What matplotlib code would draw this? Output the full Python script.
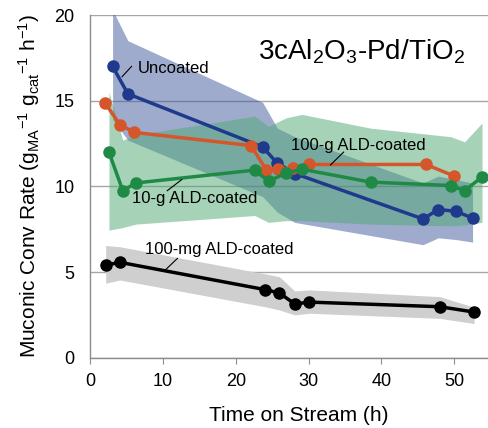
import matplotlib
matplotlib.use("Agg")
import matplotlib.pyplot as plt

plt.rcParams["font.family"] = ["Liberation Sans", "DejaVu Sans"]
plt.rcParams["mathtext.fontset"] = "custom"
plt.rcParams["mathtext.rm"] = "Liberation Sans"
plt.rcParams["mathtext.it"] = "Liberation Sans:italic"

# time on stream (h), rate, and band limits for each catalyst
uncoated_t = [3.1, 5.2, 23.7, 25.7, 28.1, 45.7, 47.8, 50.2, 52.5]
uncoated_rate = [17.0, 15.4, 12.3, 11.35, 10.75, 8.1, 8.65, 8.55, 8.15]
uncoated_hi = [20.3, 18.5, 14.9, 13.4, 12.9, 10.2, 10.6, 10.4, 10.2]
uncoated_lo = [13.9, 12.7, 9.4, 8.5, 7.9, 6.6, 7.0, 6.9, 6.75]

g100_t = [2.1, 4.1, 6.1, 22.1, 24.2, 25.8, 27.9, 30.1, 46.1, 50.0]
g100_rate = [14.85, 13.6, 13.15, 12.38, 10.95, 11.0, 11.05, 11.28, 11.28, 10.6]

g10_t = [2.6, 4.5, 6.3, 22.6, 24.5, 26.9, 29.1, 38.5, 49.5, 51.4, 53.8]
g10_rate = [12.0, 9.75, 10.2, 10.95, 10.3, 10.78, 11.0, 10.25, 10.05, 9.75, 10.55]
g10_hi = [15.5, 12.7, 13.0, 14.1, 13.5, 14.0, 14.2, 13.4, 12.9, 12.6, 13.7]
g10_lo = [7.45, 7.6, 7.8, 8.3, 7.9, 8.0, 8.0, 7.8, 7.7, 7.75, 7.9]

mg100_t = [2.15, 4.1, 24.0, 26.0, 28.1, 30.1, 48.0, 52.7]
mg100_rate = [5.4, 5.57, 3.98, 3.78, 3.14, 3.25, 2.98, 2.67]
mg100_hi = [6.55, 6.48, 4.9, 4.73, 3.9, 3.96, 3.57, 2.95]
mg100_lo = [4.35, 4.54, 2.98, 2.79, 2.5, 2.6, 2.3, 2.0]

BLUE = "#1f3a8c"
ORANGE = "#d5562a"
GREEN = "#1f8a45"

fig = plt.figure(figsize=(4.89, 4.28), dpi=100)
ax = fig.add_axes([90 / 489, 70.2 / 428, 55 * 7.287 / 489, 342.8 / 428])

# shaded ranges
ax.fill_between(uncoated_t, uncoated_lo, uncoated_hi, color="#41599d",
                alpha=0.5, lw=0, zorder=1)
ax.fill_between(g10_t, g10_lo, g10_hi, color="#4fa872", alpha=0.5,
                lw=0, zorder=2)
ax.fill_between(mg100_t, mg100_lo, mg100_hi, color="#cfcfcf", lw=0, zorder=2)

kw = dict(marker="o", markersize=8, linewidth=2.5, zorder=4)
ax.plot(uncoated_t, uncoated_rate, color=BLUE, **kw)
ax.plot(g100_t, g100_rate, color=ORANGE, **kw)
ax.plot(g10_t, g10_rate, color=GREEN, **kw)
ax.plot(mg100_t, mg100_rate, color="black", **kw)

# labels with leader lines
def label(text, xy, leader):
    ax.text(xy[0], xy[1], text, fontsize=12, ha="left", va="baseline", zorder=6)
    ax.plot(leader[0], leader[1], color="black", lw=0.8, zorder=5)

label("Uncoated", (6.5, 16.6), ([5.7, 4.4], [17.0, 16.4]))
label("100-g ALD-coated", (27.6, 12.1), ([34.8, 33.0], [12.0, 11.25]))
label("10-g ALD-coated", (5.8, 9.05), ([12.6, 10.6], [10.4, 9.75]))
label("100-mg ALD-coated", (7.5, 6.05), ([12.0, 10.4], [5.8, 5.15]))

ax.text(23.0, 17.4, r"3cAl$_2$O$_3$-Pd/TiO$_2$", fontsize=20,
        ha="left", va="baseline")

ax.set_xlim(0, 55)
ax.set_ylim(0, 20)
ax.set_xticks([0, 10, 20, 30, 40, 50])
ax.set_yticks([0, 5, 10, 15, 20])
ax.yaxis.grid(True, color="#a6a6a6", lw=1)
ax.set_axisbelow(True)

for side in ["top", "right"]:
    ax.spines[side].set_visible(False)
for side in ["left", "bottom"]:
    ax.spines[side].set_color("#8c8c8c")
    ax.spines[side].set_linewidth(1)

ax.tick_params(axis="x", direction="out", length=4, color="#8c8c8c",
               labelsize=13, pad=7)
ax.tick_params(axis="y", length=0, labelsize=13, pad=11)

ax.set_xlabel("Time on Stream (h)", fontsize=15)
ax.xaxis.set_label_coords(0.52, -0.14)
ax.set_ylabel(r"Muconic Conv Rate (g$_{\mathregular{MA}}$$^{-1}$ "
              r"g$_{\mathregular{cat}}$$^{-1}$ h$^{-1}$)", fontsize=15)
ax.yaxis.set_label_coords(-0.12, 0.5)

fig.savefig("out.png", dpi=100)
